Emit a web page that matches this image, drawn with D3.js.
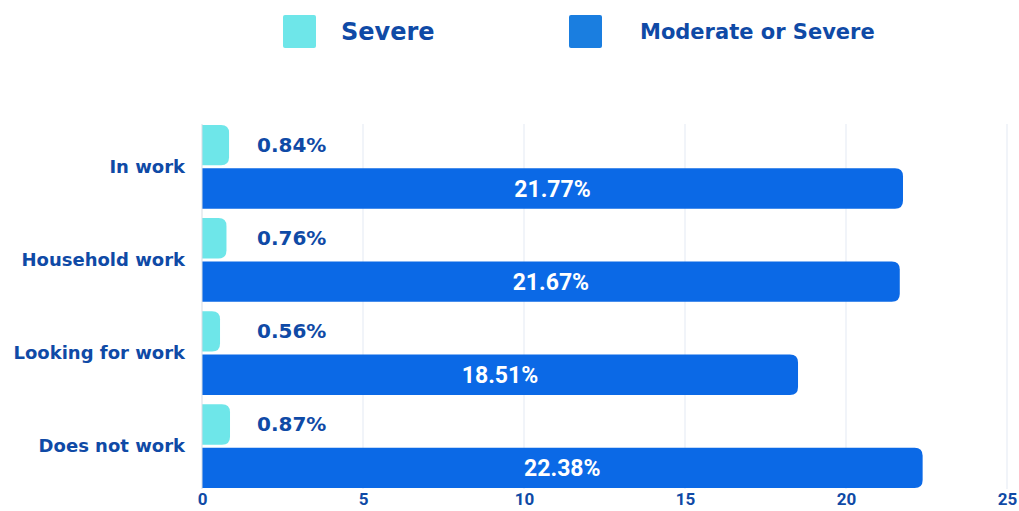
<!DOCTYPE html>
<html>
<head>
<meta charset="utf-8">
<script src="https://cdn.jsdelivr.net/npm/d3@7"></script>
<style>
  body { margin: 0; background: #fff; }
  text { font-family: "DejaVu Sans", sans-serif; font-weight: 700; }
</style>
</head>
<body>
<div id="chart"></div>
<script>
// data
var categories = ['In work', 'Household work', 'Looking for work', 'Does not work'];
var severe = [0.84, 0.76, 0.56, 0.87];
var moderateOrSevere = [21.77, 21.67, 18.51, 22.38];
var seriesNames = ['Severe', 'Moderate or Severe'];
var xTicks = [0, 5, 10, 15, 20, 25];

var width = 1019, height = 511;
var margin = {top: 124, right: 12, bottom: 22, left: 202};
var colors = {severe: '#6ee6e9', moderate: '#0b69e6', text: '#0f4aa6', grid: '#e3e9f3'};

var svg = d3.select('#chart').append('svg')
  .attr('width', width)
  .attr('height', height);

var x = d3.scaleLinear().domain([0, 25]).range([margin.left, 1007]);
var y = d3.scaleBand().domain(categories).range([margin.top, height - margin.bottom]).paddingInner(0.1).paddingOuter(0.01);
var sub = d3.scaleBand().domain(['s', 'm']).range([0, y.bandwidth()]).paddingInner(0.07);

// gridlines
svg.append('g').selectAll('line').data(xTicks.slice(1)).join('line')
  .attr('x1', function(d) { return x(d); })
  .attr('x2', function(d) { return x(d); })
  .attr('y1', margin.top)
  .attr('y2', height - margin.bottom)
  .attr('stroke', colors.grid)
  .attr('stroke-width', 1);

// bar with right rounded corners
function barPath(x0, y0, w, h, r) {
  r = Math.min(r, w, h / 2);
  return 'M' + x0 + ',' + y0 +
    'H' + (x0 + w - r) +
    'Q' + (x0 + w) + ',' + y0 + ' ' + (x0 + w) + ',' + (y0 + r) +
    'V' + (y0 + h - r) +
    'Q' + (x0 + w) + ',' + (y0 + h) + ' ' + (x0 + w - r) + ',' + (y0 + h) +
    'H' + x0 + 'Z';
}

var groups = svg.append('g').selectAll('g').data(categories).join('g')
  .attr('transform', function(d) { return 'translate(0,' + y(d) + ')'; });

groups.append('path')
  .attr('fill', colors.severe)
  .attr('d', function(d, i) { return barPath(x(0), sub('s'), x(severe[i]) - x(0), sub.bandwidth(), 8); });

groups.append('path')
  .attr('fill', colors.moderate)
  .attr('d', function(d, i) { return barPath(x(0), sub('m'), x(moderateOrSevere[i]) - x(0), sub.bandwidth(), 8); });

groups.append('text')
  .attr('x', x(0) + 55)
  .attr('y', sub('s') + sub.bandwidth() / 2)
  .attr('dy', '0.35em')
  .attr('fill', colors.text)
  .style('font-size', '20px')
  .text(function(d, i) { return severe[i].toFixed(2) + '%'; });

groups.append('text')
  .attr('x', function(d, i) { return (x(0) + x(moderateOrSevere[i])) / 2; })
  .attr('y', sub('m') + sub.bandwidth() / 2)
  .attr('dy', '0.36em')
  .attr('text-anchor', 'middle')
  .attr('fill', '#fff')
  .style('font-family', 'Roboto, sans-serif')
  .style('font-size', '23px')
  .text(function(d, i) { return moderateOrSevere[i].toFixed(2) + '%'; });

// category labels
groups.append('text')
  .attr('x', 185)
  .attr('y', y.bandwidth() / 2)
  .attr('dy', '0.35em')
  .attr('text-anchor', 'end')
  .attr('fill', colors.text)
  .style('font-size', '18px')
  .text(function(d) { return d; });

// y axis line
svg.append('line')
  .attr('x1', x(0)).attr('x2', x(0))
  .attr('y1', margin.top).attr('y2', height - margin.bottom)
  .attr('stroke', '#d6dbe3');

// x axis
var xAxis = svg.append('g')
  .attr('transform', 'translate(0,' + (height - margin.bottom) + ')')
  .call(d3.axisBottom(x).tickValues(xTicks).tickSize(0).tickPadding(4));
xAxis.select('.domain').remove();
xAxis.selectAll('text')
  .attr('fill', colors.text)
  .style('font-family', 'Roboto, sans-serif')
  .style('font-weight', 700)
  .style('font-size', '17px');

// legend
var legend = svg.append('g');
var legendX = [283, 569];
var legendTextX = [341, 640];
var legendColors = [colors.severe, '#1a7ee0'];
var legendSize = ['24px', '21px'];
seriesNames.forEach(function(name, i) {
  legend.append('rect')
    .attr('x', legendX[i]).attr('y', 15)
    .attr('width', 33).attr('height', 33)
    .attr('rx', 2)
    .attr('fill', legendColors[i]);
  legend.append('text')
    .attr('x', legendTextX[i]).attr('y', 32)
    .attr('dy', '0.35em')
    .attr('fill', colors.text)
    .style('font-size', legendSize[i])
    .text(name);
});
</script>
</body>
</html>
